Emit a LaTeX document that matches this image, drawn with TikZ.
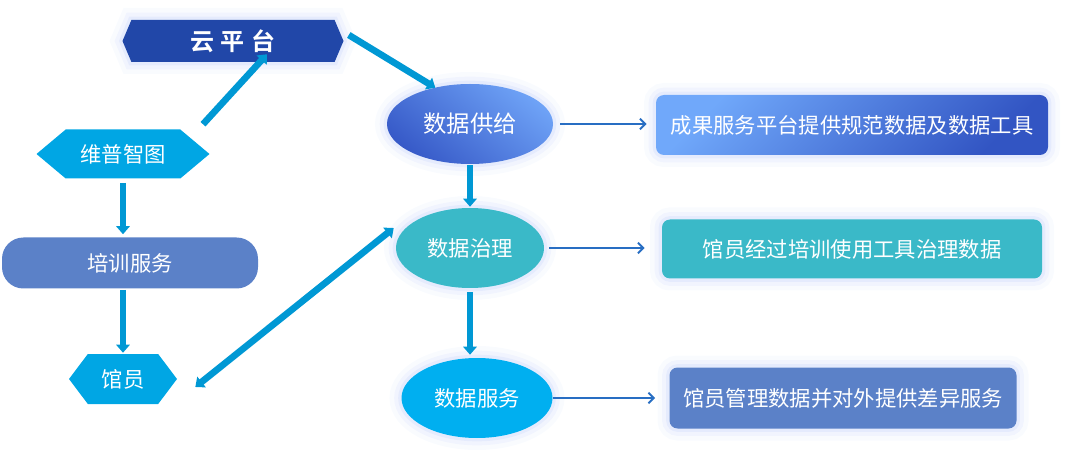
\documentclass[tikz,border=0pt]{standalone}
\usepackage{fontspec}
\setmainfont{Noto Sans CJK SC}
\newfontfamily\cloudfont{Noto Sans CJK SC Bold}
\usetikzlibrary{shapes.geometric,shapes.symbols,arrows.meta}

\definecolor{cloudblue}{RGB}{33,71,168}
\definecolor{hexcyan}{RGB}{0,166,228}
\definecolor{trainblue}{RGB}{91,129,200}
\definecolor{governteal}{RGB}{58,185,200}
\definecolor{servecyan}{RGB}{0,175,240}
\definecolor{supplylight}{RGB}{110,162,246}
\definecolor{supplydark}{RGB}{55,90,200}
\definecolor{boxlight}{RGB}{112,168,250}
\definecolor{boxdark}{RGB}{50,85,195}
\definecolor{flowcyan}{RGB}{0,152,212}
\definecolor{linkblue}{RGB}{40,110,195}
\definecolor{glowblue}{RGB}{90,130,240}

\begin{document}
\begin{tikzpicture}[x=0.75pt,y=0.75pt,yscale=-1,xscale=1,
  every node/.style={text=white,font=\fontsize{16}{19}\selectfont,inner sep=0pt},
  glow/.style={preaction={draw=glowblue,line width=18pt,draw opacity=0.035},
               preaction={draw=glowblue,line width=11pt,draw opacity=0.05},
               preaction={draw=glowblue,line width=5pt,draw opacity=0.08}},
  hexnode/.style={signal,signal to=west and east,fill=hexcyan},
  oval/.style={ellipse,minimum height=60pt,glow},
  infobox/.style={rectangle,rounded corners=6pt,minimum height=45pt,glow},
  flow/.style={draw=flowcyan,line width=5pt,-{Triangle[length=6pt,width=10pt]}},
  link/.style={draw=linkblue,line width=1.5pt,-{Straight Barb[length=4pt,width=8pt]}}]
\useasboundingbox (0,0) rectangle (1080,466);

% Left column
\node[hexnode,fill=cloudblue,minimum width=165.75pt,minimum height=31.5pt,signal pointer angle=134,font=\cloudfont\fontsize{18}{21}\selectfont,glow] (yun) at (233,41) {云\hspace{5pt}平\hspace{5pt}台};
\node[hexnode,minimum width=129.75pt,minimum height=36.75pt,signal pointer angle=80] (wei) at (123,154) {维普智图};
\node[rectangle,rounded corners=16pt,fill=trainblue,minimum width=192pt,minimum height=38.25pt] (pei) at (130,263) {培训服务};
\node[hexnode,minimum width=81pt,minimum height=37.5pt,signal pointer angle=106] (guan) at (123,379) {馆员};

% Middle column
\node[oval,top color=supplylight,bottom color=supplydark,shading angle=-40,minimum width=124.5pt,font=\fontsize{17.5}{21}\selectfont] (gong) at (470,124) {数据供给};
\node[oval,fill=governteal,minimum width=111pt] (zhi) at (470,248) {数据治理};
\node[oval,fill=servecyan,minimum width=113.25pt] (fu) at (477,398) {数据服务};

% Right column
\node[infobox,top color=boxlight,bottom color=boxdark,shading angle=45,minimum width=294pt] (res1) at (852,125) {成果服务平台提供规范数据及数据工具};
\node[infobox,fill=governteal,minimum width=285pt,minimum height=44.25pt] (res2) at (852,249) {馆员经过培训使用工具治理数据};
\node[infobox,fill=trainblue,minimum width=260.25pt,minimum height=45.75pt] (res3) at (843,398) {馆员管理数据并对外提供差异服务};

% Thick arrows
\draw[flow] ([xshift=3.75pt,yshift=-4.5pt]yun.east) -- ([xshift=-26pt,yshift=3pt]gong.north);
\draw[flow] ([xshift=60pt,yshift=-3.75pt]wei.north) -- ([xshift=25.5pt,yshift=-6pt]yun.south);
\draw[flow,shorten <=3pt,shorten >=2.25pt] (wei.south) -- (wei.south |- pei.north);
\draw[flow,shorten <=0.75pt,shorten >=0.75pt] (guan.north |- pei.south) -- (guan.north);
\draw[flow,{Triangle[length=6pt,width=10pt]}-{Triangle[length=6pt,width=10pt]}] ([xshift=13.5pt,yshift=6pt]guan.east) -- ([xshift=-1.5pt,yshift=-15pt]zhi.west);
\draw[flow,shorten <=0.75pt,shorten >=0.75pt] (gong.south) -- (zhi.north);
\draw[flow,shorten <=3pt,shorten >=2.25pt] (zhi.south) -- (zhi.south |- fu.north);

% Thin arrows
\draw[link,shorten <=5.25pt,shorten >=6.75pt] (gong.east) -- (gong.east -| res1.west);
\draw[link,shorten <=3.75pt,shorten >=12.75pt] (zhi.east) -- (zhi.east -| res2.west);
\draw[link,shorten >=10.5pt] (fu.east) -- (fu.east -| res3.west);

\end{tikzpicture}
\end{document}
